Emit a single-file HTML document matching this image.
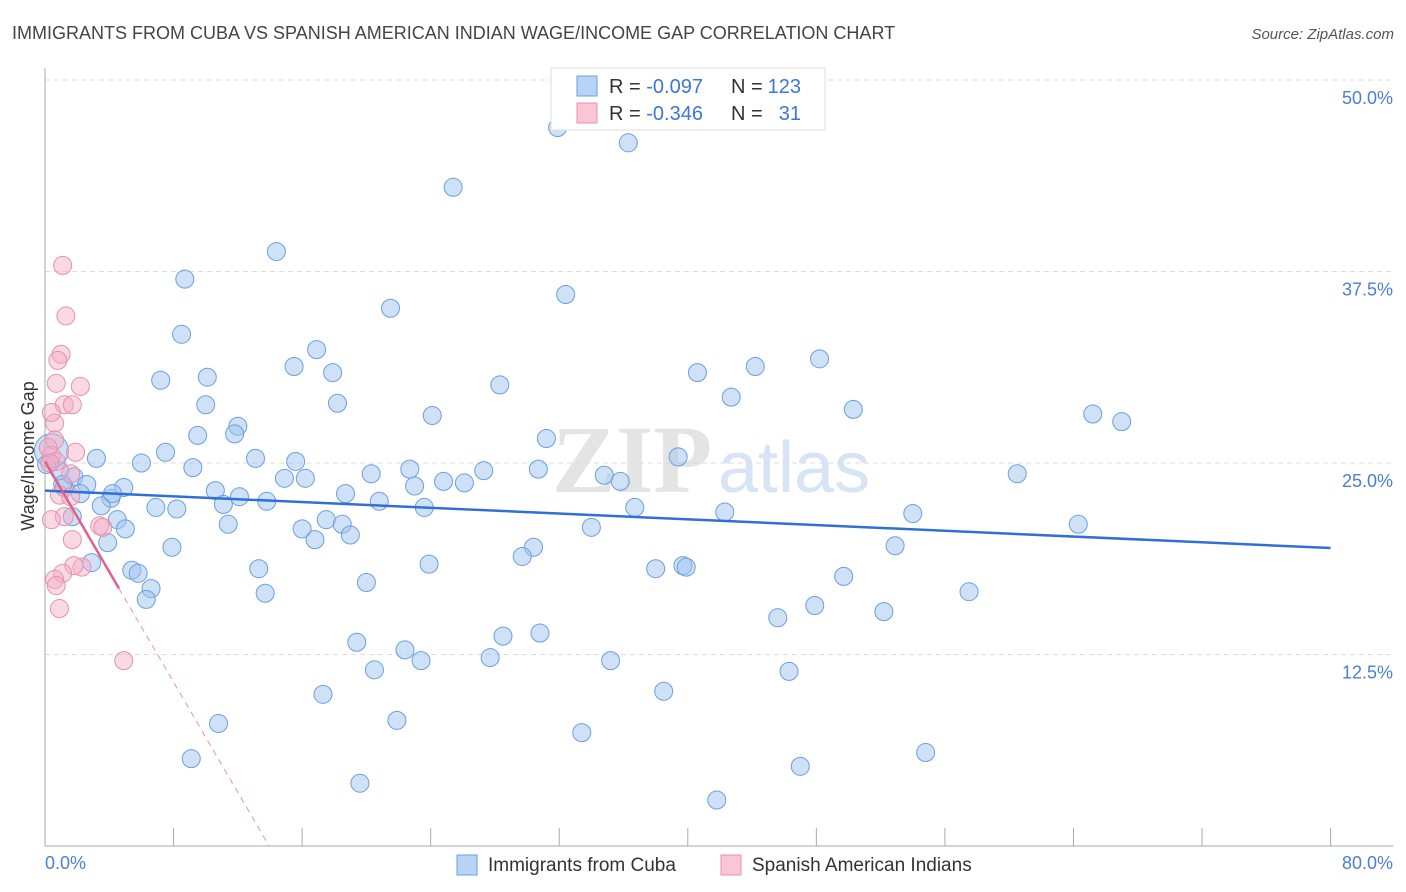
<!DOCTYPE html>
<html><head><meta charset="utf-8"><style>
body{margin:0;background:#fff;font-family:"Liberation Sans",sans-serif;}
svg{display:block}
</style></head><body>
<svg id="chart" width="1406" height="892" xmlns="http://www.w3.org/2000/svg">
<text x="12" y="39" font-size="18" fill="#444">IMMIGRANTS FROM CUBA VS SPANISH AMERICAN INDIAN WAGE/INCOME GAP CORRELATION CHART</text>
<text x="1394" y="39" font-size="15" fill="#555" font-style="italic" text-anchor="end">Source: ZipAtlas.com</text>
<g>
<text x="552" y="492" font-size="96" font-family="Liberation Serif,serif" font-weight="bold" fill="#e4e4e4">ZIP</text>
<text x="718" y="492" font-size="72" fill="#d6e4f5">atlas</text>
</g>
<g id="grid"></g>
<g id="axes"></g>
<g id="marks"></g>
<text transform="translate(34,456) rotate(-90)" font-size="18" fill="#333" text-anchor="middle">Wage/Income Gap</text>
<text x="45" y="869" font-size="18" fill="#4a7fd4">0.0%</text>
<text x="1393" y="869" font-size="18" fill="#4a7fd4" text-anchor="end">80.0%</text>
<g>
<rect x="551" y="68" width="274" height="62" fill="#fff" stroke="#ddd"/>
<rect x="577" y="76" width="20" height="20" fill="#b9d3f5" stroke="#6a9fe0"/>
<text x="609" y="93" font-size="20" fill="#333">R = <tspan fill="#3a78d4">-0.097</tspan></text>
<text x="731" y="93" font-size="20" fill="#333">N = </text>
<text x="801" y="93" font-size="20" fill="#3a78d4" text-anchor="end">123</text>
<rect x="577" y="103" width="20" height="20" fill="#f8c6d5" stroke="#e890ab"/>
<text x="609" y="120" font-size="20" fill="#333">R = <tspan fill="#3a78d4">-0.346</tspan></text>
<text x="731" y="120" font-size="20" fill="#333">N = </text>
<text x="801" y="120" font-size="20" fill="#3a78d4" text-anchor="end">31</text>
</g>
<g>
<rect x="457" y="855" width="20" height="20" fill="#b9d3f5" stroke="#6a9fe0"/>
<text x="488" y="871" font-size="19" fill="#333">Immigrants from Cuba</text>
<rect x="721" y="855" width="20" height="20" fill="#f8c6d5" stroke="#e890ab"/>
<text x="752" y="871" font-size="19" fill="#333">Spanish American Indians</text>
</g>
</svg>
<script>
const yTicks=[12.5,25,37.5,50];
const yTickLabels=["12.5%","25.0%","37.5%","50.0%"];
const xTicks=[0,8,16,24,32,40,48,56,64,72,80];
const cubaX=[31.9,36.3,25.4,14.4,8.7,32.4,21.5,8.5,16.9,15.5,44.2,48.2,7.2,10.1,17.9,28.3,40.6,42.7,10.0,18.2,50.3,24.1,65.2,67.0,12.0,11.8,9.5,31.2,7.5,3.2,6.0,13.1,9.2,15.6,39.4,20.3,22.7,27.3,30.7,34.8,35.8,60.5,14.9,16.2,24.8,26.1,4.9,10.6,23.0,18.7,12.1,4.1,11.1,13.8,20.8,23.6,36.7,42.3,6.9,8.2,3.5,4.5,5.0,11.4,17.5,18.5,54.0,64.3,16.0,34.0,19.0,16.8,3.9,7.9,30.4,29.7,52.9,2.9,13.3,23.9,38.0,39.7,39.9,5.4,5.8,49.7,20.0,6.6,6.3,13.7,57.5,47.9,52.2,45.6,28.5,30.8,19.4,22.4,23.4,27.7,35.2,20.5,46.3,17.3,38.5,10.8,21.9,33.4,9.1,54.8,47.0,19.6,41.8,1.8,2.6,1.2,2.2,1.7,0.9,0.4,1.1,0.1,4.2];
const cubaY=[46.9,45.9,43.0,38.8,37.0,36.0,35.1,33.4,32.4,31.3,31.3,31.8,30.4,30.6,30.9,30.1,30.9,29.3,28.8,28.9,28.5,28.1,28.2,27.7,27.4,26.9,26.8,26.6,25.7,25.3,25.0,25.3,24.7,25.1,25.4,24.3,24.6,24.5,24.6,24.2,23.8,24.3,24.0,24.0,23.8,23.7,23.4,23.2,23.5,23.0,22.8,22.7,22.3,22.5,22.5,22.1,22.1,21.8,22.1,22.0,22.2,21.3,20.7,21.0,21.3,21.0,21.7,21.0,20.7,20.8,20.3,20.0,19.8,19.5,19.5,18.9,19.6,18.5,18.1,18.4,18.1,18.3,18.2,18.0,17.8,17.6,17.2,16.8,16.1,16.5,16.6,15.7,15.3,14.9,13.7,13.9,13.3,12.8,12.1,12.3,12.1,11.5,11.4,9.9,10.1,8.0,8.2,7.4,5.7,6.1,5.2,4.1,3.0,24.1,23.6,23.4,23.0,21.5,24.5,25.8,23.6,24.9,23.0];
const spanX=[1.1,1.3,1.0,0.8,0.7,2.2,1.2,1.7,0.6,0.4,0.6,1.9,0.4,0.2,0.7,1.6,0.9,1.6,1.2,0.4,1.7,3.4,3.6,2.3,1.8,1.1,0.6,0.7,0.9,4.9,0.3];
const spanY=[37.9,34.6,32.1,31.7,30.2,30.0,28.8,28.8,27.6,28.3,26.5,25.7,25.5,26.0,25.1,24.3,22.9,22.8,21.5,21.3,20.0,20.9,20.8,18.2,18.3,17.8,17.4,17.0,15.5,12.1,25.0];
const cubaTrend=[23.2,19.45];
const spanTrend=[25.1,-1.8];
const spanSolidEnd=4.6;

const X0=45,XW=16.07,Y0=846,YH=15.32;
const sx=v=>X0+v*XW, sy=v=>Y0-v*YH;
const NS="http://www.w3.org/2000/svg";
function mk(tag,attrs,parent){const e=document.createElementNS(NS,tag);for(const k in attrs)e.setAttribute(k,attrs[k]);parent.appendChild(e);return e;}
const grid=document.getElementById('grid'),axes=document.getElementById('axes'),marks=document.getElementById('marks');
yTicks.forEach((t,i)=>{
 const g=mk('line',{x1:45,x2:1393,y1:sy(t),y2:sy(t),stroke:'#ddd','stroke-dasharray':'5,4'},grid);
 
 
 const l=mk('text',{x:1393,y:sy(t)+24,'font-size':18,fill:'#4a7fd4','text-anchor':'end'},grid);
 l.textContent=yTickLabels[i];
 
 
});
const ya=mk('line',{x1:45,x2:45,y1:68,y2:846,stroke:'#aaa'},axes);


const xa=mk('line',{x1:45,x2:1393,y1:846,y2:846,stroke:'#aaa'},axes);


xTicks.forEach(t=>{
 const tk=mk('line',{x1:sx(t),x2:sx(t),y1:828,y2:846,stroke:'#aaa'},axes);
 
 
});
cubaX.forEach((x,i)=>{
 const big=(i===119);
 const c=mk('circle',{cx:sx(x),cy:sy(cubaY[i]),r:big?17:9,fill:'rgba(160,196,240,0.5)',stroke:'#6a9fe0','stroke-width':1},marks);
 
 
});
spanX.forEach((x,i)=>{
 const c=mk('circle',{cx:sx(x),cy:sy(spanY[i]),r:9,fill:'rgba(245,170,195,0.45)',stroke:'#e890ab','stroke-width':1},marks);
 
 
});
const bt=mk('line',{x1:sx(0),y1:sy(cubaTrend[0]),x2:sx(80),y2:sy(cubaTrend[1]),stroke:'#2f6fd6','stroke-width':2.5},marks);


const pf=x=>spanTrend[0]+spanTrend[1]*x;
const pt=mk('line',{x1:sx(0),y1:sy(pf(0)),x2:sx(spanSolidEnd),y2:sy(pf(spanSolidEnd)),stroke:'#e0608a','stroke-width':2.5},marks);


const xz=-spanTrend[0]/spanTrend[1];
const pd=mk('line',{x1:sx(spanSolidEnd),y1:sy(pf(spanSolidEnd)),x2:sx(xz),y2:sy(0),stroke:'#e890ab','stroke-width':1,'stroke-dasharray':'6,5'},marks);


</script>
</body></html>
